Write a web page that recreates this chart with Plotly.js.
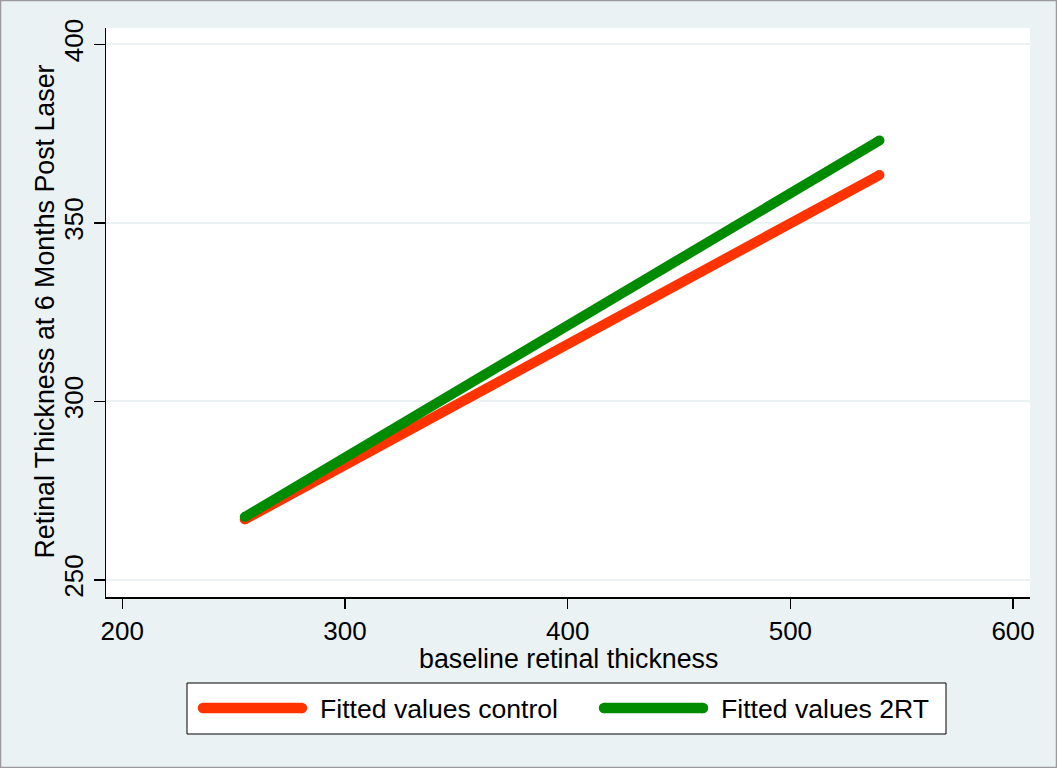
<!DOCTYPE html>
<html>
<head>
<meta charset="utf-8">
<script src="https://cdn.plot.ly/plotly-3.0.1.min.js"></script>
<style>html,body{margin:0;padding:0;background:#EAF2F3;}#chart{width:1057px;height:768px;}</style>
</head>
<body>
<div id="chart"></div>
<script>
// Data
const seriesNames = ["Fitted values control", "Fitted values 2RT"];
const baselineX = [255, 540];
const controlY = [266.9, 363.4];
const rtY = [267.6, 373.1];
const xTicks = [200, 300, 400, 500, 600];
const yTicks = [250, 300, 350, 400];
const xTitle = "baseline retinal thickness";
const yTitle = "Retinal Thickness at 6 Months Post Laser";

const W = 1057, H = 768;
const L = 106, R = 1030, T = 28, B = 597;
const px = x => (x - L) / (R - L);
const py = y => (B - y) / (B - T);

const FONT = "Liberation Sans, Arial, Helvetica, sans-serif";
const colors = ["#FF3300", "#008B00"];

const traces = [
  {x: baselineX, y: controlY, name: seriesNames[0], mode: "lines+markers",
   line: {color: colors[0], width: 10}, marker: {color: colors[0], size: 10}, showlegend: false, hoverinfo: "skip"},
  {x: baselineX, y: rtY, name: seriesNames[1], mode: "lines+markers",
   line: {color: colors[1], width: 10}, marker: {color: colors[1], size: 10}, showlegend: false, hoverinfo: "skip"}
];

function cap(cx, cy, r, color) {
  return {type: "circle", xref: "paper", yref: "paper",
    x0: px(cx - r), x1: px(cx + r), y0: py(cy + r), y1: py(cy - r),
    line: {width: 0}, fillcolor: color};
}

const shapes = [
  // outer frame
  {type: "rect", xref: "paper", yref: "paper", x0: px(0.5), x1: px(W - 0.5), y0: py(H - 0.5), y1: py(0.5),
   line: {color: "#9a9a9a", width: 1.5}, fillcolor: "rgba(0,0,0,0)", layer: "below"},
  // legend box
  {type: "rect", xref: "paper", yref: "paper", x0: px(187), x1: px(946), y0: py(734), y1: py(683),
   line: {color: "#000", width: 1}, fillcolor: "#ffffff"},
  // legend swatches
  {type: "line", xref: "paper", yref: "paper", x0: px(203), x1: px(302), y0: py(708), y1: py(708),
   line: {color: colors[0], width: 10.5}},
  cap(203, 708, 5.25, colors[0]), cap(302, 708, 5.25, colors[0]),
  {type: "line", xref: "paper", yref: "paper", x0: px(604), x1: px(703), y0: py(708), y1: py(708),
   line: {color: colors[1], width: 10.5}},
  cap(604, 708, 5.25, colors[1]), cap(703, 708, 5.25, colors[1])
];
const annotations = [
  {xref: "paper", yref: "paper", x: px(318), y: py(709), xanchor: "left", yanchor: "middle",
   text: seriesNames[0], showarrow: false, font: {family: FONT, size: 26.6, color: "#000"}},
  {xref: "paper", yref: "paper", x: px(719), y: py(709), xanchor: "left", yanchor: "middle",
   text: seriesNames[1], showarrow: false, font: {family: FONT, size: 26.6, color: "#000"}},
  // axis titles
  {xref: "paper", yref: "paper", x: px(568), y: py(659), xanchor: "center", yanchor: "middle",
   text: xTitle, showarrow: false, font: {family: FONT, size: 26.8, color: "#000"}},
  {xref: "paper", yref: "paper", x: px(44), y: py(311.5), xanchor: "center", yanchor: "middle",
   text: yTitle, textangle: -90, showarrow: false, font: {family: FONT, size: 26.8, color: "#000"}}
];

const layout = {
  width: W, height: H,
  margin: {l: L, r: W - R, t: T, b: H - B, pad: 0},
  paper_bgcolor: "#EAF2F3",
  plot_bgcolor: "#ffffff",
  font: {family: FONT, color: "#000"},
  showlegend: false,
  xaxis: {
    range: [192.7, 607.6], tickvals: xTicks, ticktext: xTicks.map(String),
    showgrid: false, zeroline: false, showline: true, linecolor: "#000", linewidth: 1.5,
    ticks: "outside", ticklen: 10, tickwidth: 1.5, tickcolor: "#000",
    tickfont: {family: FONT, size: 26, color: "#000"},
    automargin: false, fixedrange: true
  },
  yaxis: {
    range: [245.2, 404.6], tickvals: yTicks, ticktext: yTicks.map(String),
    showgrid: true, gridcolor: "#EAF2F3", gridwidth: 2, zeroline: false,
    showline: true, linecolor: "#000", linewidth: 1.5,
    ticks: "outside", ticklen: 11, tickwidth: 1.5, tickcolor: "#000", tickangle: -90,
    tickfont: {family: FONT, size: 26, color: "#000"},
    automargin: false, fixedrange: true
  },
  shapes: shapes,
  annotations: annotations
};

Plotly.newPlot("chart", traces, layout, {staticPlot: true, displayModeBar: false});
</script>
</body>
</html>
